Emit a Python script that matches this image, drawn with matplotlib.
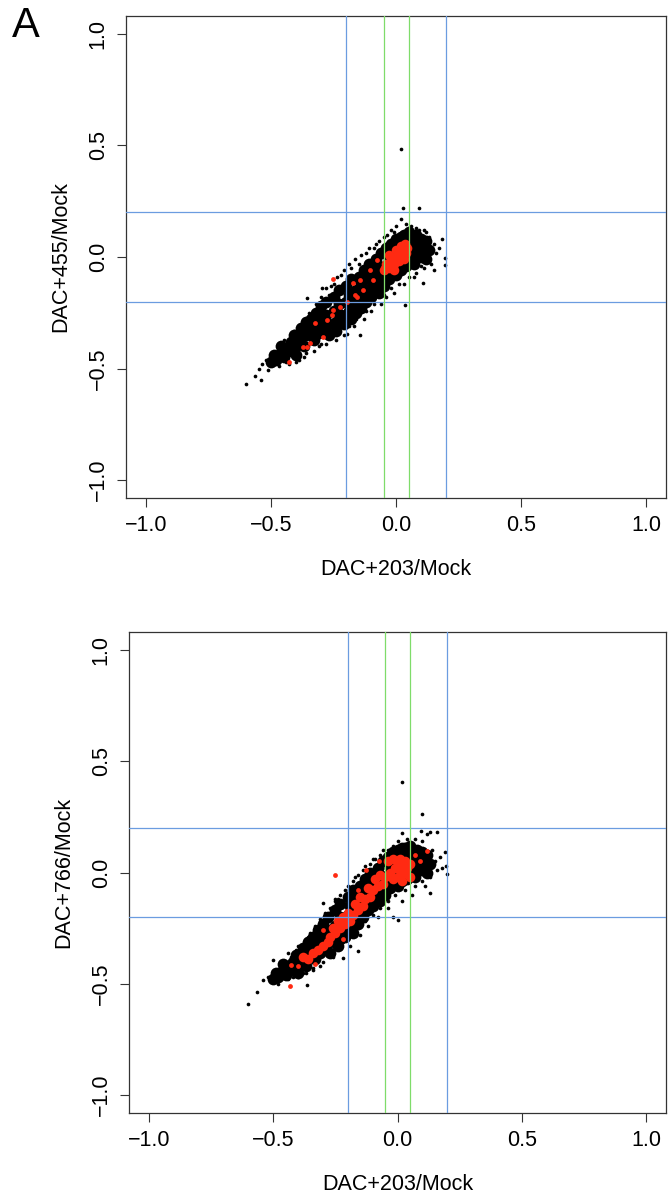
import matplotlib
matplotlib.use("Agg")
import matplotlib.pyplot as plt

plt.rcParams['font.family'] = ['Liberation Sans', 'DejaVu Sans']

# ---------------- data ----------------
axis_ticks = [-1.0, -0.5, 0.0, 0.5, 1.0]
tick_labels = ["\u22121.0", "\u22120.5", "0.0", "0.5", "1.0"]
blue_cuts = [-0.2, 0.2]
green_cuts = [-0.05, 0.05]
x_label = "DAC+203/Mock"
y_label_top = "DAC+455/Mock"
y_label_bottom = "DAC+766/Mock"
panel_letter = "A"

# Panel 1 (DAC+455 vs DAC+203)
p1_black_core = [
    (-0.50, -0.47), (-0.49, -0.44), (-0.48, -0.46),
    (-0.46, -0.43), (-0.46, -0.40), (-0.45, -0.45), (-0.44, -0.41),
    (-0.42, -0.38), (-0.42, -0.42), (-0.41, -0.35), (-0.40, -0.40), (-0.40, -0.44),
    (-0.38, -0.36), (-0.38, -0.32), (-0.37, -0.40), (-0.36, -0.35), (-0.36, -0.29),
    (-0.34, -0.33), (-0.34, -0.28), (-0.33, -0.37), (-0.32, -0.30), (-0.32, -0.25), (-0.31, -0.34),
    (-0.30, -0.28), (-0.30, -0.22), (-0.29, -0.32), (-0.28, -0.26), (-0.28, -0.20), (-0.27, -0.30), (-0.27, -0.35),
    (-0.25, -0.24), (-0.25, -0.18), (-0.24, -0.29), (-0.24, -0.33), (-0.23, -0.21), (-0.23, -0.15), (-0.22, -0.26),
    (-0.21, -0.30), (-0.20, -0.20), (-0.20, -0.13), (-0.19, -0.24), (-0.19, -0.17), (-0.18, -0.28), (-0.18, -0.10),
    (-0.17, -0.21), (-0.16, -0.15), (-0.16, -0.25), (-0.15, -0.09), (-0.15, -0.19), (-0.14, -0.23), (-0.14, -0.12),
    (-0.13, -0.06), (-0.12, -0.16), (-0.12, -0.20), (-0.11, -0.10), (-0.11, -0.03), (-0.10, -0.14), (-0.10, -0.18),
    (-0.09, -0.07), (-0.08, -0.01), (-0.08, -0.12), (-0.07, -0.16), (-0.07, -0.04), (-0.06, 0.02), (-0.06, -0.09),
    (-0.05, -0.13), (-0.04, -0.05), (-0.04, 0.04), (-0.03, -0.01), (-0.03, -0.10), (-0.02, 0.06), (-0.02, -0.06),
    (-0.01, 0.02), (0.00, -0.08), (0.00, 0.08), (0.01, -0.03), (0.01, 0.04), (0.02, 0.09), (0.02, -0.06),
    (0.03, 0.01), (0.03, 0.10), (0.04, -0.04), (0.04, 0.06), (0.05, 0.11), (0.05, -0.01), (0.06, 0.04),
    (0.07, 0.08), (0.07, -0.03), (0.08, 0.02), (0.08, 0.10), (0.09, 0.05), (0.10, 0.00), (0.10, 0.08),
    (0.11, 0.04), (0.12, 0.07), (0.12, -0.01), (0.13, 0.03),
]
p1_black_fringe = [
    (-0.60, -0.57), (-0.564, -0.534), (-0.54, -0.552), (-0.537, -0.48), (-0.511, -0.507),
    (-0.491, -0.469), (-0.464, -0.395), (-0.52, -0.46), (-0.55, -0.50), (-0.47, -0.49),
    (-0.45, -0.37), (-0.43, -0.48), (-0.41, -0.33), (-0.39, -0.46), (-0.36, -0.43),
    (-0.357, -0.185), (-0.297, -0.137), (-0.33, -0.24), (-0.35, -0.27), (-0.31, -0.40),
    (-0.28, -0.39), (-0.27, -0.17), (-0.25, -0.12), (-0.24, -0.37), (-0.22, -0.08),
    (-0.21, -0.35), (-0.197, -0.343), (-0.144, -0.35), (-0.18, -0.05), (-0.17, -0.31),
    (-0.15, -0.03), (-0.13, -0.28), (-0.12, 0.02), (-0.10, -0.24), (-0.09, 0.04),
    (-0.08, 0.06), (-0.06, -0.21), (-0.05, 0.09), (-0.04, -0.18), (-0.02, 0.12),
    (-0.01, -0.16), (0.00, 0.14), (0.02, 0.169), (0.029, 0.221), (0.091, 0.221),
    (0.036, -0.215), (0.03, -0.12), (0.04, 0.15), (0.06, 0.14), (0.07, -0.09),
    (0.08, 0.13), (0.109, -0.118), (0.11, -0.05), (0.12, 0.11), (0.13, 0.09),
    (0.14, -0.03), (0.15, 0.06), (0.16, 0.02), (0.183, 0.079), (0.196, -0.003),
    (0.196, -0.036), (0.17, 0.04), (0.15, -0.06), (0.02, 0.484),
    (-0.42, -0.36), (-0.40, -0.34), (-0.37, -0.30), (-0.35, -0.25), (-0.32, -0.21),
    (-0.30, -0.18), (-0.28, -0.14), (-0.26, -0.13), (-0.235, -0.09), (-0.21, -0.06),
    (-0.19, -0.03), (-0.165, -0.01), (-0.14, 0.01), (-0.11, 0.04), (-0.07, 0.07),
    (-0.035, 0.10), (-0.01, 0.11), (0.05, 0.13), (0.09, 0.12), (0.11, 0.12),
    (-0.44, -0.47), (-0.40, -0.47), (-0.37, -0.45), (-0.33, -0.42), (-0.30, -0.39),
    (-0.26, -0.36), (-0.23, -0.34), (-0.19, -0.31), (-0.16, -0.28), (-0.12, -0.24),
    (-0.09, -0.21), (-0.05, -0.17), (-0.02, -0.14), (0.01, -0.12), (0.05, -0.09),
    (0.08, -0.07), (0.10, -0.04), (0.12, -0.02),
]
p1_red_core = [
    (-0.05, -0.06), (-0.04, -0.03), (-0.03, -0.05), (-0.02, -0.01), (-0.01, -0.03),
    (0.00, 0.00), (0.01, 0.02), (0.01, -0.02), (0.02, 0.01), (0.03, 0.03),
    (0.03, -0.01), (0.04, 0.02), (0.045, 0.04), (-0.03, 0.01), (0.00, 0.03),
    (0.02, 0.05), (-0.01, -0.06), (0.035, 0.06),
]
p1_red_scatter = [
    (-0.157, -0.178), (-0.197, -0.20), (-0.163, -0.172), (-0.251, -0.237), (-0.257, -0.259),
    (-0.224, -0.223), (-0.324, -0.297), (-0.344, -0.387), (-0.371, -0.402), (-0.291, -0.357),
    (-0.277, -0.282), (-0.171, -0.118), (-0.104, -0.058), (-0.091, -0.103), (-0.131, -0.148),
    (-0.251, -0.10), (-0.427, -0.469), (-0.357, -0.402), (-0.051, -0.043), (-0.077, -0.013),
    (-0.144, -0.103),
]

# Panel 2 (DAC+766 vs DAC+203)
p2_black_core = [
    (-0.50, -0.48), (-0.49, -0.45), (-0.48, -0.47),
    (-0.46, -0.44), (-0.46, -0.41), (-0.45, -0.46), (-0.44, -0.42),
    (-0.42, -0.40), (-0.42, -0.44), (-0.41, -0.37), (-0.40, -0.41), (-0.40, -0.45),
    (-0.38, -0.38), (-0.38, -0.34), (-0.37, -0.42), (-0.36, -0.36), (-0.36, -0.31),
    (-0.34, -0.34), (-0.34, -0.29), (-0.33, -0.39), (-0.32, -0.31), (-0.32, -0.26), (-0.31, -0.36),
    (-0.30, -0.29), (-0.30, -0.23), (-0.29, -0.33), (-0.28, -0.26), (-0.28, -0.20), (-0.27, -0.31), (-0.27, -0.36),
    (-0.25, -0.24), (-0.25, -0.17), (-0.24, -0.29), (-0.24, -0.33), (-0.23, -0.20), (-0.23, -0.14), (-0.22, -0.26),
    (-0.21, -0.29), (-0.20, -0.19), (-0.20, -0.11), (-0.19, -0.23), (-0.19, -0.15), (-0.18, -0.27), (-0.18, -0.08),
    (-0.17, -0.19), (-0.16, -0.12), (-0.16, -0.23), (-0.15, -0.06), (-0.15, -0.16), (-0.14, -0.20), (-0.14, -0.09),
    (-0.13, -0.03), (-0.12, -0.13), (-0.12, -0.17), (-0.11, -0.07), (-0.11, 0.00), (-0.10, -0.11), (-0.10, -0.15),
    (-0.09, -0.04), (-0.08, 0.02), (-0.08, -0.09), (-0.07, -0.13), (-0.07, -0.01), (-0.06, 0.05), (-0.06, -0.06),
    (-0.05, -0.10), (-0.04, -0.02), (-0.04, 0.07), (-0.03, 0.02), (-0.03, -0.07), (-0.02, 0.09), (-0.02, -0.04),
    (-0.01, 0.04), (0.00, -0.06), (0.00, 0.10), (0.01, -0.01), (0.01, 0.06), (0.02, 0.11), (0.02, -0.04),
    (0.03, 0.02), (0.03, 0.11), (0.04, -0.03), (0.04, 0.07), (0.05, 0.12), (0.05, 0.00), (0.06, 0.05),
    (0.07, 0.09), (0.07, -0.02), (0.08, 0.03), (0.08, 0.10), (0.09, 0.06), (0.10, 0.01), (0.10, 0.09),
    (0.11, 0.05), (0.12, 0.08), (0.12, 0.00), (0.13, 0.04),
]
p2_black_fringe = [
    (-0.60, -0.592), (-0.564, -0.535), (-0.54, -0.482), (-0.502, -0.395), (-0.365, -0.504),
    (-0.52, -0.47), (-0.50, -0.45), (-0.48, -0.50), (-0.47, -0.42), (-0.46, -0.47),
    (-0.44, -0.36), (-0.42, -0.47), (-0.40, -0.33), (-0.38, -0.45), (-0.36, -0.29),
    (-0.34, -0.44), (-0.33, -0.25), (-0.298, -0.136), (-0.251, -0.12), (-0.30, -0.40),
    (-0.28, -0.20), (-0.26, -0.38), (-0.24, -0.12), (-0.218, -0.384), (-0.158, -0.354),
    (-0.20, -0.06), (-0.19, -0.33), (-0.17, -0.02), (-0.15, -0.28), (-0.13, 0.03),
    (-0.12, -0.24), (-0.10, 0.06), (-0.08, -0.20), (-0.06, 0.10), (-0.04, -0.16),
    (-0.02, 0.12), (0.003, -0.212), (-0.02, -0.20), (0.00, 0.14), (0.017, 0.176),
    (0.04, 0.15), (0.02, -0.13), (0.06, -0.10), (0.07, 0.15), (0.093, 0.186),
    (0.099, 0.261), (0.12, 0.172), (0.13, 0.18), (0.157, 0.184), (0.10, 0.14),
    (0.131, -0.092), (0.11, -0.06), (0.14, 0.10), (0.15, 0.05), (0.16, 0.01),
    (0.17, 0.07), (0.191, 0.092), (0.198, -0.005), (0.195, 0.029), (0.18, 0.02),
    (0.02, 0.405),
    (-0.43, -0.38), (-0.41, -0.35), (-0.37, -0.30), (-0.35, -0.27), (-0.33, -0.24),
    (-0.31, -0.21), (-0.29, -0.18), (-0.27, -0.16), (-0.25, -0.13), (-0.23, -0.10),
    (-0.21, -0.08), (-0.18, -0.04), (-0.16, -0.01), (-0.14, 0.01), (-0.11, 0.04),
    (-0.09, 0.06), (-0.07, 0.08), (-0.04, 0.10), (0.03, 0.13), (0.06, 0.12),
    (-0.44, -0.48), (-0.40, -0.47), (-0.37, -0.45), (-0.34, -0.43), (-0.31, -0.42),
    (-0.28, -0.37), (-0.25, -0.34), (-0.22, -0.31), (-0.19, -0.28), (-0.16, -0.25),
    (-0.13, -0.22), (-0.10, -0.19), (-0.07, -0.16), (-0.04, -0.13), (-0.01, -0.10),
    (0.03, -0.08), (0.07, -0.06), (0.10, -0.04), (0.13, -0.02),
]
p2_red_core = [
    (-0.04, 0.05), (-0.03, 0.00), (-0.02, 0.06), (-0.02, -0.03), (-0.01, 0.02),
    (0.00, 0.05), (0.00, -0.02), (0.01, 0.01), (0.01, 0.06), (0.02, 0.03),
    (0.02, -0.04), (0.03, 0.00), (0.03, 0.05), (0.04, 0.02), (0.05, 0.04),
    (0.05, -0.02), (-0.05, -0.02), (-0.06, -0.05), (-0.07, -0.01), (-0.08, -0.06),
    (-0.09, -0.03), (-0.10, -0.08), (-0.11, -0.11), (-0.12, -0.07), (-0.13, -0.12),
    (-0.14, -0.15), (-0.15, -0.11), (-0.16, -0.17), (-0.17, -0.14), (-0.18, -0.19),
    (-0.19, -0.22), (-0.20, -0.18), (-0.21, -0.23), (-0.22, -0.20), (-0.23, -0.25),
    (-0.24, -0.22), (-0.25, -0.27), (-0.26, -0.25), (-0.27, -0.29), (-0.28, -0.31),
    (-0.30, -0.33), (-0.32, -0.35), (-0.34, -0.36), (-0.36, -0.39), (-0.38, -0.38),
]
p2_red_scatter = [
    (-0.251, -0.009), (-0.432, -0.509), (-0.428, -0.415), (-0.40, -0.42), (-0.073, 0.05),
    (-0.127, 0.01), (0.118, 0.095), (-0.30, -0.26), (-0.22, -0.30), (-0.16, -0.08),
    (0.07, 0.08), (0.09, 0.05), (-0.33, -0.41),
]

# ---------------- styling ----------------
BLUE = "#6b9ce0"
GREEN = "#7fdc6a"
RED = "#ff2a12"
FRAME = "#333333"
FS = 15.5

fig = plt.figure(figsize=(6.68, 11.93), dpi=100)
ax1 = fig.add_axes([126 / 668, 1 - 498 / 1193, 540 / 668, 482 / 1193])
ax2 = fig.add_axes([129 / 668, 1 - 1113 / 1193, 537 / 668, 481 / 1193])


def draw(ax, core, fringe, red_core, red_scatter, ylabel):
    layers = [(core, "black", 72), (fringe, "black", 7),
              (red_core, RED, 48), (red_scatter, RED, 12)]
    for pts, col, s in layers:
        ax.scatter([p[0] for p in pts], [p[1] for p in pts], s=s, c=col,
                   linewidths=0, zorder=2)
    for v in blue_cuts:
        ax.axvline(v, color=BLUE, lw=0.9, zorder=3)
        ax.axhline(v, color=BLUE, lw=0.9, zorder=3)
    for v in green_cuts:
        ax.axvline(v, color=GREEN, lw=0.9, zorder=3)
    ax.set_xlim(-1.08, 1.08)
    ax.set_ylim(-1.08, 1.08)
    ax.set_xticks(axis_ticks)
    ax.set_xticklabels(tick_labels, fontsize=FS)
    ax.set_yticks(axis_ticks)
    ax.set_yticklabels(tick_labels, fontsize=FS, rotation=90, va="center")
    ax.tick_params(axis="both", length=6.5, width=0.8, color=FRAME, pad=6)
    for sp in ax.spines.values():
        sp.set_color(FRAME)
        sp.set_linewidth(0.9)
    ax.set_xlabel(x_label, fontsize=FS, labelpad=16)
    ax.set_ylabel(ylabel, fontsize=FS, labelpad=12)


draw(ax1, p1_black_core, p1_black_fringe, p1_red_core, p1_red_scatter, y_label_top)
draw(ax2, p2_black_core, p2_black_fringe, p2_red_core, p2_red_scatter, y_label_bottom)

fig.text(12 / 668, 1 - 6 / 1193, panel_letter, fontsize=30, ha="left", va="top")

fig.savefig("out.png", dpi=100)
